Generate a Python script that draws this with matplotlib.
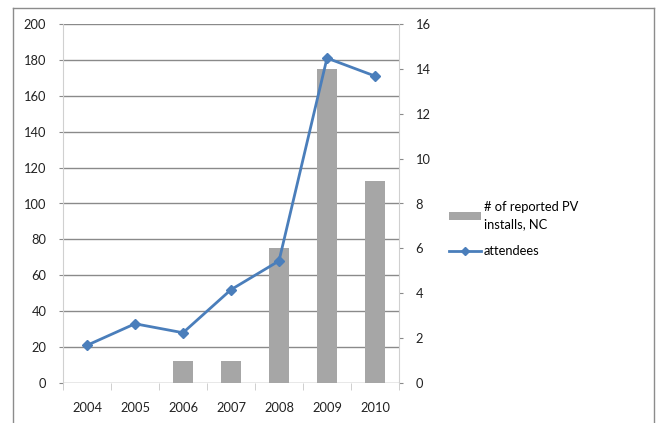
import matplotlib
matplotlib.use("Agg")
import matplotlib.pyplot as plt
from matplotlib.lines import Line2D
from matplotlib.patches import Patch
import numpy as np

years = ["2004", "2005", "2006", "2007", "2008", "2009", "2010"]
installs = [0, 0, 1, 1, 6, 14, 9]           # right axis (bars)
attendees = [21, 33, 28, 52, 68, 181, 171]  # left axis (line)
left_ticks = list(range(0, 201, 20))
right_ticks = list(range(0, 17, 2))

plt.rcParams['font.family'] = ['Lato', 'DejaVu Sans']
fig = plt.figure(figsize=(6.56, 4.23), dpi=100)

# outer border (left, top, right)
bc = '#8c8c8c'
fig.add_artist(Line2D([13/656, 13/656], [0, 1-8/423], transform=fig.transFigure, color=bc, lw=1))
fig.add_artist(Line2D([13/656, 654/656], [1-8/423, 1-8/423], transform=fig.transFigure, color=bc, lw=1))
fig.add_artist(Line2D([654/656, 654/656], [0, 1-8/423], transform=fig.transFigure, color=bc, lw=1))

fs = 9.3
pos = [63/656, 40/423, (399-63)/656, (383-24)/423]
ax = fig.add_axes(pos)
x = np.arange(len(years))
ax.set_xlim(-0.5, len(years)-0.5)
ax.set_ylim(0, 200)
ax.set_yticks(left_ticks)
ax.yaxis.grid(True, color='#8a8a8a', lw=1)
ax.set_axisbelow(True)
for s in ['top', 'right', 'bottom']:
    ax.spines[s].set_visible(False)
ax.spines['left'].set_color('#d0d0d0')
ax.set_xticks(x)
ax.set_xticklabels(years)
ax.set_xticks(np.arange(-0.5, len(years)), minor=True)
ax.tick_params(axis='x', which='major', length=0, pad=14, labelsize=fs, colors='#222222')
ax.tick_params(axis='x', which='minor', length=5, color='#c8c8c8')
ax.tick_params(axis='y', length=3, color='#8a8a8a', labelsize=fs, pad=9, labelcolor='#222222')

ax2 = ax.twinx()
ax2.set_ylim(0, 16)
ax2.set_yticks(right_ticks)
ax2.bar(x, installs, width=0.4, color='#a6a6a6', zorder=2)
for s in ['top', 'left', 'bottom']:
    ax2.spines[s].set_visible(False)
ax2.spines['right'].set_color('#d0d0d0')
ax2.tick_params(axis='y', length=3, color='#8a8a8a', labelsize=fs, pad=9, labelcolor='#222222')

ax3 = fig.add_axes(pos, sharex=ax, sharey=ax)
ax3.patch.set_visible(False)
ax3.axis('off')
ax3.plot(x, attendees, color='#4a7ebb', lw=2, marker='D', ms=5, clip_on=False)

handles = [Patch(facecolor='#a6a6a6', edgecolor='none'),
           Line2D([0], [0], color='#4a7ebb', lw=2, marker='D', ms=4)]
labels = ["# of reported PV\ninstalls, NC", "attendees"]
leg = fig.legend(handles, labels, loc='upper left', bbox_to_anchor=(444/656, 1-196/423),
                 frameon=False, fontsize=fs, handlelength=2.5, handletextpad=0.2,
                 labelspacing=1.2, handleheight=0.5, borderaxespad=0)
for t in leg.get_texts():
    t.set_linespacing(1.45)

fig.savefig("out.png", dpi=100)
